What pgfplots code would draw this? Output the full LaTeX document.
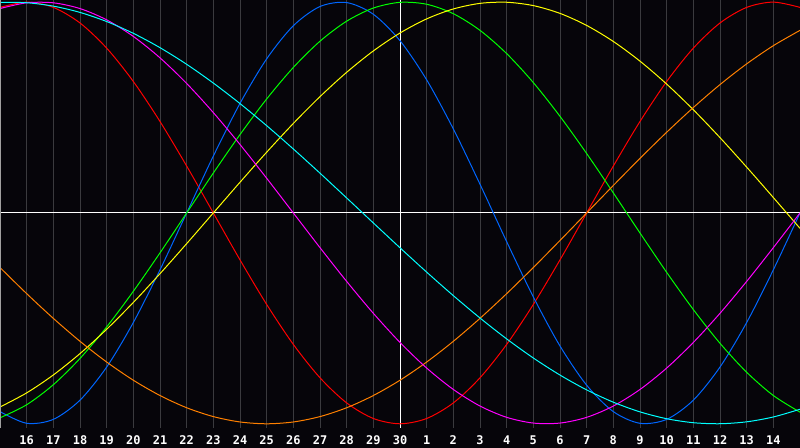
\documentclass[border=0pt]{standalone}
\usepackage{fontspec}
\usepackage{pgfplots}
\usepackage{pgfplotstable}
\pgfplotsset{compat=1.18}
\newfontfamily\tickfont{DejaVu Sans Mono}

\definecolor{bg}{RGB}{6,5,10}
\definecolor{gridc}{RGB}{58,58,62}
\definecolor{framec}{RGB}{160,160,160}
\definecolor{cred}{RGB}{255,0,0}
\definecolor{cblue}{RGB}{0,102,255}
\definecolor{cgreen}{RGB}{0,255,0}
\definecolor{cyellow}{RGB}{255,255,0}
\definecolor{corange}{RGB}{255,128,0}
\definecolor{cmagenta}{RGB}{255,0,255}
\definecolor{ccyan}{RGB}{0,255,255}

% day index t: 0 = the 15th (left edge), 15 = the 30th (centre), 30 = the 15th of next month
\pgfplotstableread{
t  red     blue    green   yellow  orange  magenta cyan
0   0.9749 -0.9423 -0.9718 -0.9204 -0.2588  0.9694  0.9991
1   1.0000 -0.9977 -0.9096 -0.8534 -0.3827  0.9966  0.9970
2   0.9749 -0.9791 -0.8146 -0.7684 -0.5000  0.9966  0.9809
3   0.9010 -0.8879 -0.6901 -0.6671 -0.6088  0.9694  0.9511
4   0.7818 -0.7308 -0.5406 -0.5517 -0.7071  0.9158  0.9078
5   0.6235 -0.5196 -0.3717 -0.4245 -0.7934  0.8372  0.8519
6   0.4339 -0.2698 -0.1893 -0.2881 -0.8660  0.7357  0.7839
7   0.2225  0.0000  0.0000 -0.1456 -0.9239  0.6142  0.7050
8   0.0000  0.2698  0.1893  0.0000 -0.9659  0.4759  0.6160
9  -0.2225  0.5196  0.3717  0.1456 -0.9914  0.3247  0.5187
10 -0.4339  0.7308  0.5406  0.2881 -1.0000  0.1646  0.4140
11 -0.6235  0.8879  0.6901  0.4245 -0.9914  0.0000  0.3034
12 -0.7818  0.9791  0.8146  0.5517 -0.9659 -0.1646  0.1886
13 -0.9010  0.9977  0.9096  0.6671 -0.9239 -0.3247  0.0711
14 -0.9749  0.9423  0.9718  0.7684 -0.8660 -0.4759 -0.0474
15 -1.0000  0.8170  0.9989  0.8534 -0.7934 -0.6142 -0.1652
16 -0.9749  0.6311  0.9898  0.9204 -0.7071 -0.7357 -0.2807
17 -0.9010  0.3984  0.9450  0.9675 -0.6088 -0.8372 -0.3922
18 -0.7818  0.1362  0.8660  0.9940 -0.5000 -0.9158 -0.4983
19 -0.6235 -0.1362  0.7557  0.9993 -0.3827 -0.9694 -0.5974
20 -0.4339 -0.3984  0.6182  0.9834 -0.2588 -0.9966 -0.6880
21 -0.2225 -0.6311  0.4582  0.9465 -0.1305 -0.9966 -0.7689
22  0.0000 -0.8170  0.2817  0.8893  0.0000 -0.9694 -0.8393
23  0.2225 -0.9423  0.0951  0.8133  0.1305 -0.9158 -0.8976
24  0.4339 -0.9977 -0.0951  0.7199  0.2588 -0.8372 -0.9435
25  0.6235 -0.9791 -0.2817  0.6112  0.3827 -0.7357 -0.9760
26  0.7818 -0.8879 -0.4582  0.4894  0.5000 -0.6142 -0.9949
27  0.9010 -0.7308 -0.6182  0.3572  0.6088 -0.4759 -0.9998
28  0.9749 -0.5196 -0.7557  0.2174  0.7071 -0.3247 -0.9907
29  1.0000 -0.2698 -0.8660  0.0730  0.7934 -0.1646 -0.9677
30  0.9749  0.0000 -0.9450 -0.0730  0.8660  0.0000 -0.9311
}\bio

\begin{document}
\begin{tikzpicture}
\fill[bg] (0,-10bp) rectangle (400bp,214bp);
\begin{axis}[
	at={(0,0)}, anchor=south west,
	scale only axis,
	width=400bp, height=214bp,
	xmin=0, xmax=30,
	ymin=-1.02, ymax=1.01,
	axis line style={draw=none},
	xtick={1,...,29},
	xticklabels={16,17,18,19,20,21,22,23,24,25,26,27,28,29,30,1,2,3,4,5,6,7,8,9,10,11,12,13,14},
	ytick=\empty,
	major tick length=0pt,
	xmajorgrids,
	major grid style={draw=gridc, line width=0.5bp},
	xticklabel style={font=\tickfont\bfseries\fontsize{6}{7}\selectfont, text=white, inner sep=0pt, anchor=north, yshift=-3.6bp},
	every axis plot/.append style={line width=0.5bp, smooth, no markers},
]
	\draw[white, line width=0.5bp] (axis cs:15,-1.02) -- (axis cs:15,1.01);
	\draw[white, line width=0.5bp] (axis cs:0,0) -- (axis cs:30,0);
	\addplot[cred] table[x=t, y=red] {\bio};
	\addplot[cblue] table[x=t, y=blue] {\bio};
	\addplot[cgreen] table[x=t, y=green] {\bio};
	\addplot[cyellow] table[x=t, y=yellow] {\bio};
	\addplot[corange] table[x=t, y=orange] {\bio};
	\addplot[cmagenta] table[x=t, y=magenta] {\bio};
	\addplot[ccyan] table[x=t, y=cyan] {\bio};
	\draw[framec, line width=0.5bp] (axis cs:0,-1.02) -- (axis cs:30,-1.02);
	\draw[framec, line width=0.5bp] (axis cs:0,-1.02) -- (axis cs:0,1.01) -- (axis cs:30,1.01);
\end{axis}
\pgfresetboundingbox
\useasboundingbox (0,-10bp) rectangle (400bp,214bp);
\end{tikzpicture}
\end{document}
